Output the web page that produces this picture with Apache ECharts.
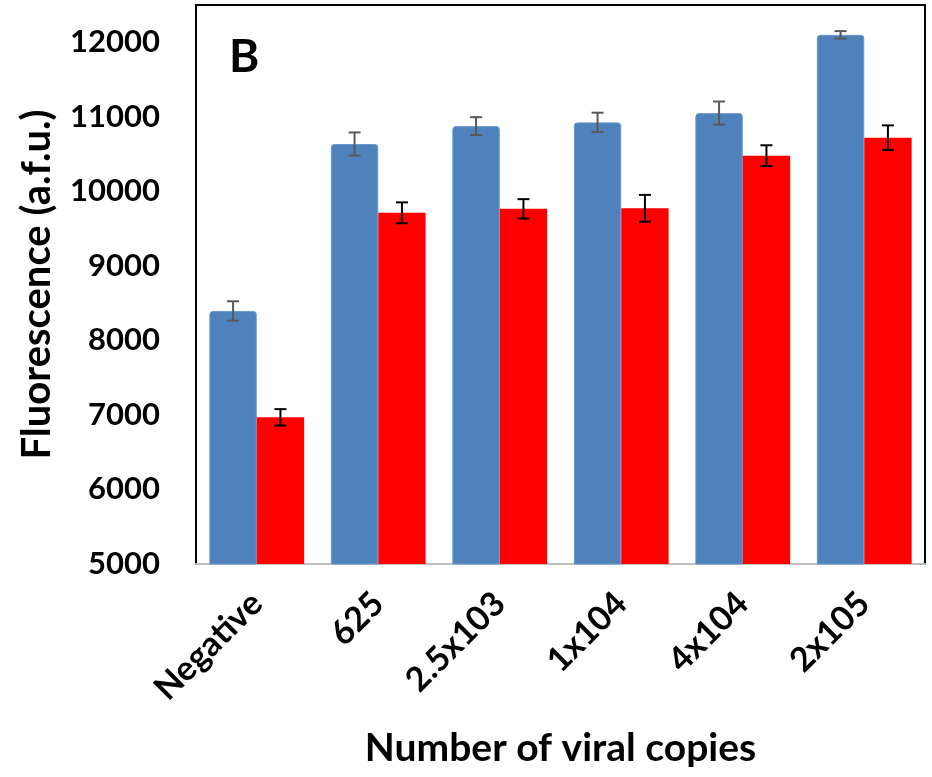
<!DOCTYPE html>
<html>
<head>
<meta charset="utf-8">
<script src="https://cdn.jsdelivr.net/npm/echarts@6/dist/echarts.min.js"></script>
<style>html,body{margin:0;padding:0;background:#fff}#c{width:932px;height:777px}</style>
</head>
<body>
<div id="c"></div>
<script>
const categories = ['Negative', '625', '2.5x103', '1x104', '4x104', '2x105'];
const blueValues = [8395, 10635, 10875, 10925, 11050, 12100];
const blueErrors = [130, 155, 120, 130, 155, 50];
const redValues = [6968, 9712, 9765, 9772, 10478, 10720];
const redErrors = [110, 140, 130, 180, 140, 165];
const yTicks = { min: 5000, max: 12500, interval: 1000 };

const FONT = 'Lato';
const GAP = 0.22;

function errorSeries(values, errors, side, color) {
  return {
    type: 'custom',
    z: 10,
    data: values.map((v, i) => [i, v, errors[i]]),
    renderItem: function (params, api) {
      const i = api.value(0), v = api.value(1), e = api.value(2);
      const band = api.size([1, 0])[0];
      const bw = band * (1 - GAP) / 2;
      const c = api.coord([i, v]);
      const x = c[0] + side * bw / 2;
      const yTop = api.coord([i, v + e])[1];
      const yBot = api.coord([i, v - e])[1];
      const cap = 6;
      const st = { stroke: color, lineWidth: 2 };
      return {
        type: 'group',
        children: [
          { type: 'line', shape: { x1: x, y1: yTop, x2: x, y2: yBot }, style: st },
          { type: 'line', shape: { x1: x - cap, y1: yTop, x2: x + cap, y2: yTop }, style: st },
          { type: 'line', shape: { x1: x - cap, y1: yBot, x2: x + cap, y2: yBot }, style: st }
        ]
      };
    }
  };
}

const chart = echarts.init(document.getElementById('c'), null, { renderer: 'canvas' });
chart.setOption({
  animation: false,
  backgroundColor: '#fff',
  textStyle: { fontFamily: FONT },
  grid: { left: 196, right: 7, top: 5, bottom: 213, containLabel: false, outerBoundsMode: 'none' },
  xAxis: [{
    type: 'category',
    data: categories,
    axisLine: { lineStyle: { color: '#bfbfbf', width: 2 } },
    axisTick: { length: 12, lineStyle: { color: '#d0d0d0', width: 2 } },
    axisLabel: { rotate: 45, margin: 34, fontSize: 34, fontWeight: 'bold', color: '#000', fontFamily: FONT },
    name: 'Number of viral copies',
    nameLocation: 'middle',
    nameGap: 165,
    nameTextStyle: { fontSize: 39, fontWeight: 'bold', color: '#000', fontFamily: FONT }
  }, {
    type: 'category',
    position: 'top',
    data: categories,
    axisLine: { lineStyle: { color: '#000', width: 2 } },
    axisTick: { show: false },
    axisLabel: { show: false }
  }],
  yAxis: [{
    type: 'value',
    min: yTicks.min,
    max: yTicks.max,
    interval: yTicks.interval,
    splitLine: { show: false },
    axisLine: { show: true, lineStyle: { color: '#000', width: 2 } },
    axisTick: { show: false },
    axisLabel: { margin: 36, fontSize: 31, fontWeight: 'bold', color: '#000', fontFamily: FONT, showMaxLabel: false,
      formatter: v => (v % 1000 === 0 ? String(v) : '') },
    name: 'Fluorescence (a.f.u.)',
    nameLocation: 'middle',
    nameGap: 139,
    nameTextStyle: { fontSize: 40, fontWeight: 'bold', color: '#000', fontFamily: FONT }
  }, {
    type: 'value',
    position: 'right',
    min: yTicks.min,
    max: yTicks.max,
    interval: yTicks.interval,
    splitLine: { show: false },
    axisLine: { show: true, lineStyle: { color: '#000', width: 2 } },
    axisTick: { show: false },
    axisLabel: { show: false }
  }],
  graphic: [{
    type: 'text', left: 229, top: 34,
    style: { text: 'B', fontSize: 46, fontWeight: 'bold', fill: '#000', fontFamily: FONT }
  }],
  series: [{
    type: 'bar',
    data: blueValues,
    barGap: '0%',
    barCategoryGap: (GAP * 100) + '%',
    itemStyle: { color: '#4F81BD', borderColor: '#6b96cc', borderWidth: 1, borderRadius: [3, 3, 0, 0] }
  }, {
    type: 'bar',
    data: redValues,
    barGap: '0%',
    barCategoryGap: (GAP * 100) + '%',
    itemStyle: { color: '#FF0000' }
  },
  errorSeries(blueValues, blueErrors, -1, '#595959'),
  errorSeries(redValues, redErrors, 1, '#000000')
  ]
});
</script>
</body>
</html>
